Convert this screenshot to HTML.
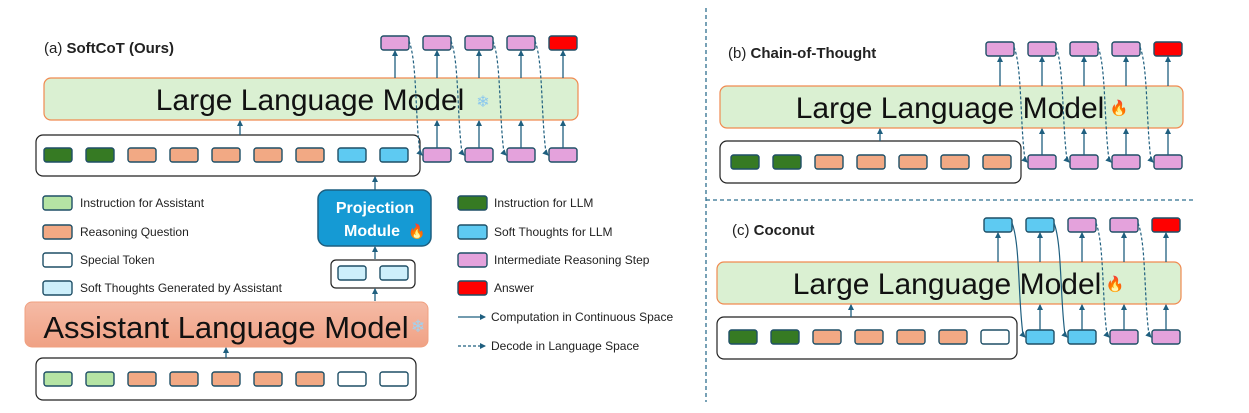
<!DOCTYPE html>
<html><head><meta charset="utf-8"><style>
html,body{margin:0;padding:0;background:#fff;width:1249px;height:413px;overflow:hidden}
svg{display:block}
text{font-family:"Liberation Sans",sans-serif}
.t{font-size:12px;fill:#222}
.big{font-size:29px;fill:#111}
</style></head><body>
<svg id="s" width="1249" height="413" viewBox="0 0 1249 413" xmlns="http://www.w3.org/2000/svg">
<defs>
<marker id="ah" markerWidth="6" markerHeight="6" refX="5" refY="3" orient="auto" markerUnits="userSpaceOnUse"><path d="M0,0 L6,3 L0,6 z" fill="#1f5f7f"/></marker>
<linearGradient id="sal" x1="0" y1="0" x2="0" y2="1"><stop offset="0" stop-color="#f5bba6"/><stop offset="1" stop-color="#f0a184"/></linearGradient>
</defs>
<line x1="706" y1="8" x2="706" y2="402" stroke="#2f6f8f" stroke-width="1.3" stroke-dasharray="4,3"/>
<line x1="706" y1="200" x2="1194" y2="200" stroke="#2f6f8f" stroke-width="1.3" stroke-dasharray="4,3"/>

<!-- (a) -->
<text x="44" y="53" style="font-size:15px;fill:#222">(a) <tspan font-weight="bold">SoftCoT (Ours)</tspan></text>
<rect x="44" y="78" width="534" height="42" rx="7" fill="#daf0d2" stroke="#f08a50" stroke-width="1.2"/>
<text x="310" y="110" text-anchor="middle" class="big" style="font-size:30px">Large Language Model</text>
<text x="483" y="107" text-anchor="middle" style="font-size:16px;fill:#8cc8ee">❄</text>
<rect x="36" y="135" width="384" height="41" rx="7" fill="#fff" stroke="#222" stroke-width="1.2"/>
<rect x="318" y="190" width="113" height="56" rx="9" fill="#159ad4" stroke="#1d5f80" stroke-width="1.5"/>
<text x="375" y="213" text-anchor="middle" style="font-size:16px;fill:#fff;font-weight:bold">Projection</text>
<text x="372" y="236" text-anchor="middle" style="font-size:16px;fill:#fff;font-weight:bold">Module</text>
<text x="417" y="236" text-anchor="middle" style="font-size:14px;fill:#f05a10">🔥</text>
<rect x="331" y="260" width="84" height="28" rx="5" fill="#fff" stroke="#222" stroke-width="1.2"/>
<rect x="25" y="302" width="403" height="45" rx="7" fill="url(#sal)" stroke="#f0a080" stroke-width="1"/>
<text x="226" y="338" text-anchor="middle" class="big" style="font-size:31px">Assistant Language Model</text>
<text x="418" y="332" text-anchor="middle" style="font-size:17px;fill:#9fd2f2">❄</text>
<rect x="36" y="358" width="380" height="42" rx="7" fill="#fff" stroke="#222" stroke-width="1.2"/>

<!-- legend -->
<text x="80" y="207" class="t">Instruction for Assistant</text>
<text x="80" y="236" class="t">Reasoning Question</text>
<text x="80" y="264" class="t">Special Token</text>
<text x="80" y="292" class="t">Soft Thoughts Generated by Assistant</text>
<text x="494" y="207" class="t">Instruction for LLM</text>
<text x="494" y="236" class="t">Soft Thoughts for LLM</text>
<text x="494" y="264" class="t">Intermediate Reasoning Step</text>
<text x="494" y="292" class="t">Answer</text>
<line x1="458" y1="317" x2="485" y2="317" stroke="#1f5f7f" stroke-width="1.3" marker-end="url(#ah)"/>
<text x="491" y="321" class="t">Computation in Continuous Space</text>
<line x1="458" y1="346" x2="485" y2="346" stroke="#1f5f7f" stroke-width="1.3" stroke-dasharray="3,2" marker-end="url(#ah)"/>
<text x="491" y="350" class="t">Decode in Language Space</text>

<!-- (b) -->
<text x="728" y="58" style="font-size:15px;fill:#222">(b) <tspan font-weight="bold">Chain-of-Thought</tspan></text>
<rect x="720" y="86" width="463" height="42" rx="7" fill="#daf0d2" stroke="#f08a50" stroke-width="1.2"/>
<text x="950" y="118" text-anchor="middle" class="big" style="font-size:30px">Large Language Model</text>
<text x="1119" y="113" text-anchor="middle" style="font-size:15px;fill:#f05a10">🔥</text>
<rect x="720" y="141" width="301" height="42" rx="7" fill="#fff" stroke="#222" stroke-width="1.2"/>

<!-- (c) -->
<text x="732" y="235" style="font-size:15px;fill:#222">(c) <tspan font-weight="bold">Coconut</tspan></text>
<rect x="717" y="262" width="464" height="42" rx="7" fill="#daf0d2" stroke="#f08a50" stroke-width="1.2"/>
<text x="947" y="294" text-anchor="middle" class="big" style="font-size:30px">Large Language Model</text>
<text x="1115" y="289" text-anchor="middle" style="font-size:15px;fill:#f05a10">🔥</text>
<rect x="717" y="317" width="300" height="42" rx="7" fill="#fff" stroke="#222" stroke-width="1.2"/>
<g id="g"></g>
</svg>
<script>
var g=document.getElementById('g'),NS='http://www.w3.org/2000/svg';
var C={dg:'#367a23',or:'#f2a984',bl:'#5ecaf2',lb:'#cdeffb',lg:'#b5e4a4',wh:'#ffffff',pk:'#e4a2dc',rd:'#ff0000'};
function el(n,a){var e=document.createElementNS(NS,n);for(var k in a)e.setAttribute(k,a[k]);g.appendChild(e);return e;}
function tok(x,y,c,w){el('rect',{x:x,y:y,width:w||28,height:14,rx:2.5,fill:C[c],stroke:'#1f4f66','stroke-width':1.4});}
function arr(x,y1,y2,d){var a={x1:x,y1:y1,x2:x,y2:y2+1,stroke:'#1f5f7f','stroke-width':1.3,'marker-end':'url(#ah)'};if(d)a['stroke-dasharray']='3,2';el('line',a);}
function curve(x1,y1,x2,y2,dash){var a={d:'M'+x1+','+y1+' C'+(x1+8)+','+(y1+20)+' '+(x2-8)+','+(y2-40)+' '+(x2-3)+','+(y2-2)+' L'+(x2-1)+','+y2,fill:'none',stroke:'#1f5f7f','stroke-width':1.2,'marker-end':'url(#ah)'};if(dash)a['stroke-dasharray']='3,2';el('path',a);}
var ly=[196,225,253,281];['lg','or','wh','lb'].forEach(function(c,i){tok(43,ly[i],c,29)});
['dg','bl','pk','rd'].forEach(function(c,i){tok(458,ly[i],c,29)});
function panel(xs,yTop,llmTop,llmBot,yBot,topC,botC,inX,inC,inArrowX,inBoxTop,solid){
 inC.forEach(function(c,i){tok(inX+i*42,yBot,c)});
 arr(inArrowX,inBoxTop,llmBot);
 xs.forEach(function(x,i){
  arr(x+14,llmTop,yTop+14);
  tok(x,yTop,topC[i]);
  if(i>0){tok(x,yBot,botC[i-1]);arr(x+14,yBot,llmBot);}
 });
 xs.forEach(function(x,i){ if(i<xs.length-1) curve(x+28,yTop+5,xs[i+1],yBot+7,!(solid&&i<2)); });
}
panel([381,423,465,507,549],36,78,120,148,['pk','pk','pk','pk','rd'],['pk','pk','pk','pk'],44,['dg','dg','or','or','or','or','or','bl','bl'],240,135,false);
panel([986,1028,1070,1112,1154],42,86,128,155,['pk','pk','pk','pk','rd'],['pk','pk','pk','pk'],731,['dg','dg','or','or','or','or','or'],880,141,false);
panel([984,1026,1068,1110,1152],218,262,304,330,['bl','bl','pk','pk','rd'],['bl','bl','pk','pk'],729,['dg','dg','or','or','or','or','wh'],851,317,true);
arr(375,190,176);
tok(338,266,'lb');tok(380,266,'lb');
arr(375,259,246);
arr(375,301,288);
arr(226,358,347);
['lg','lg','or','or','or','or','or','wh','wh'].forEach(function(c,i){tok(44+i*42,372,c)});
</script>
</body></html>
